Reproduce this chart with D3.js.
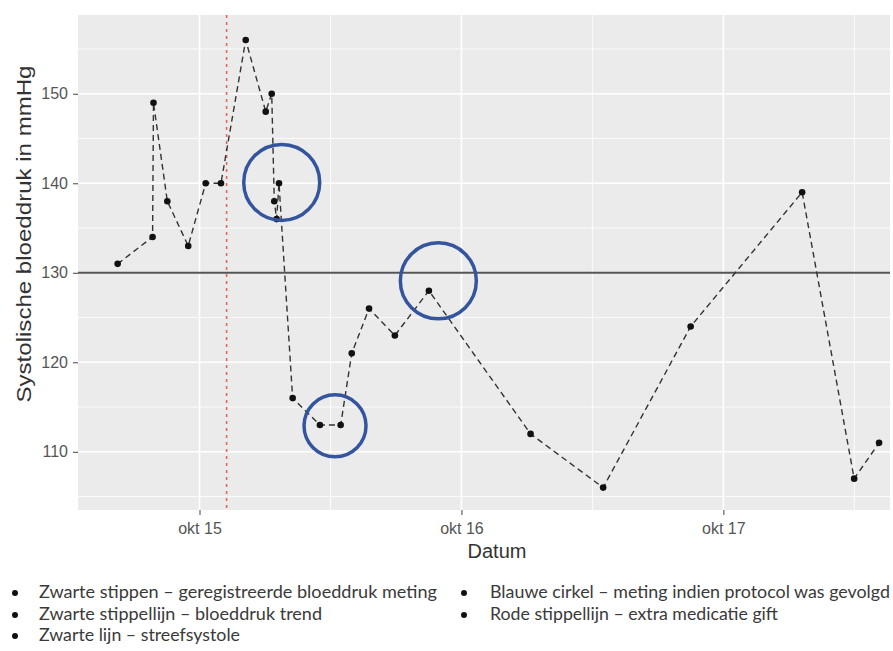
<!DOCTYPE html>
<html>
<head>
<meta charset="utf-8">
<script src="https://cdn.jsdelivr.net/npm/d3@7"></script>
<style>
  body { margin: 0; background: #fff; }
  svg { display: block; }
</style>
</head>
<body>
<div id="chart"></div>
<script>

// measurement times and systolic values (mmHg)
var times = [
  "2019-10-14 16:30", "2019-10-14 19:42", "2019-10-14 19:47", "2019-10-14 21:03",
  "2019-10-14 22:58", "2019-10-15 00:34", "2019-10-15 01:58", "2019-10-15 04:14",
  "2019-10-15 06:04", "2019-10-15 06:37", "2019-10-15 06:51", "2019-10-15 07:04",
  "2019-10-15 07:17", "2019-10-15 08:32", "2019-10-15 11:02", "2019-10-15 12:56",
  "2019-10-15 13:57", "2019-10-15 15:32", "2019-10-15 17:54", "2019-10-15 21:01",
  "2019-10-16 06:20", "2019-10-16 12:59", "2019-10-16 21:00", "2019-10-17 07:13",
  "2019-10-17 11:59", "2019-10-17 14:16"
];
var systole = [
  131, 134, 149, 138,
  133, 140, 140, 156,
  148, 150, 138, 136,
  140, 116, 113, 113,
  121, 126, 123, 128,
  112, 106, 124, 139,
  107, 111
];

// target systole and extra medication moment
var targetSystole = 130;
var medicationTime = "2019-10-15 02:29";

// blue circles: measurement if protocol was followed
var circleTimes = ["2019-10-15 07:32", "2019-10-15 12:25", "2019-10-15 21:53"];
var circleValues = [140.1, 112.9, 129.1];

// axis ticks
var xTickTimes = ["2019-10-15 00:00", "2019-10-16 00:00", "2019-10-17 00:00"];
var xMinorTimes = ["2019-10-15 12:00", "2019-10-16 12:00", "2019-10-17 12:00"];
var yTicks = [110, 120, 130, 140, 150];
var yMinor = [105, 115, 125, 135, 145, 155];

// legend texts
var legendLeft = [
  "Zwarte stippen \u2013 geregistreerde bloeddruk meting",
  "Zwarte stippellijn \u2013 bloeddruk trend",
  "Zwarte lijn \u2013 streefsystole"
];
var legendRight = [
  "Blauwe cirkel \u2013 meting indien protocol was gevolgd",
  "Rode stippellijn \u2013 extra medicatie gift"
];

var parse = d3.timeParse("%Y-%m-%d %H:%M");
var data = times.map(function(t, i) { return {date: parse(t), value: systole[i]}; });

var nl = d3.timeFormatLocale({
  dateTime: "%a %e %B %Y %X", date: "%d-%m-%Y", time: "%H:%M:%S",
  periods: ["AM", "PM"],
  days: ["zondag", "maandag", "dinsdag", "woensdag", "donderdag", "vrijdag", "zaterdag"],
  shortDays: ["zo", "ma", "di", "wo", "do", "vr", "za"],
  months: ["januari", "februari", "maart", "april", "mei", "juni", "juli", "augustus", "september", "oktober", "november", "december"],
  shortMonths: ["jan", "feb", "mrt", "apr", "mei", "jun", "jul", "aug", "sep", "okt", "nov", "dec"]
});

// panel box
var margin = {top: 15, right: 3, bottom: 141, left: 78},
    width = 893 - margin.left - margin.right,
    height = 651 - margin.top - margin.bottom;

var svg = d3.select("#chart")
  .append("svg")
    .attr("width", 893)
    .attr("height", 651);

var g = svg.append("g")
    .attr("transform", "translate(" + margin.left + "," + margin.top + ")");

var x = d3.scaleTime()
  .domain([parse("2019-10-14 12:52"), parse("2019-10-17 15:16")])
  .range([0, width]);

var y = d3.scaleLinear()
  .domain([103.5, 158.8])
  .range([height, 0]);

// panel background
g.append("rect")
  .attr("width", width)
  .attr("height", height)
  .attr("fill", "#ebebeb");

// minor grid
g.selectAll(".hminor").data(yMinor).enter().append("line")
  .attr("x1", 0).attr("x2", width)
  .attr("y1", function(d) { return y(d); })
  .attr("y2", function(d) { return y(d); })
  .attr("stroke", "#fff").attr("stroke-width", 0.8);
g.selectAll(".vminor").data(xMinorTimes).enter().append("line")
  .attr("y1", 0).attr("y2", height)
  .attr("x1", function(d) { return x(parse(d)); })
  .attr("x2", function(d) { return x(parse(d)); })
  .attr("stroke", "#fff").attr("stroke-width", 0.8);

// major grid
g.selectAll(".hmajor").data(yTicks).enter().append("line")
  .attr("x1", 0).attr("x2", width)
  .attr("y1", function(d) { return y(d); })
  .attr("y2", function(d) { return y(d); })
  .attr("stroke", "#fff").attr("stroke-width", 1.6);
g.selectAll(".vmajor").data(xTickTimes).enter().append("line")
  .attr("y1", 0).attr("y2", height)
  .attr("x1", function(d) { return x(parse(d)); })
  .attr("x2", function(d) { return x(parse(d)); })
  .attr("stroke", "#fff").attr("stroke-width", 1.6);

// target line
g.append("line")
  .attr("x1", 0).attr("x2", width)
  .attr("y1", y(targetSystole)).attr("y2", y(targetSystole))
  .attr("stroke", "#555").attr("stroke-width", 2);

// medication line
g.append("line")
  .attr("y1", 0).attr("y2", height)
  .attr("x1", x(parse(medicationTime))).attr("x2", x(parse(medicationTime)))
  .attr("stroke", "#e8645e").attr("stroke-width", 1.6)
  .attr("stroke-dasharray", "3,4");

// trend line
var line = d3.line()
  .x(function(d) { return x(d.date); })
  .y(function(d) { return y(d.value); });

g.append("path")
  .datum(data)
  .attr("d", line)
  .attr("fill", "none")
  .attr("stroke", "#333")
  .attr("stroke-width", 1.4)
  .attr("stroke-dasharray", "6,4");

// points
g.selectAll(".dot").data(data).enter().append("circle")
  .attr("cx", function(d) { return x(d.date); })
  .attr("cy", function(d) { return y(d.value); })
  .attr("r", 3.3)
  .attr("fill", "#111");

// protocol circles
var circleR = [38, 31, 38];
g.selectAll(".ring").data(circleTimes).enter().append("circle")
  .attr("cx", function(d) { return x(parse(d)); })
  .attr("cy", function(d, i) { return y(circleValues[i]); })
  .attr("r", function(d, i) { return circleR[i]; })
  .attr("fill", "none")
  .attr("stroke", "#34559e")
  .attr("stroke-width", 3.5);

// axes
var xAxis = g.append("g")
  .attr("transform", "translate(0," + height + ")")
  .call(d3.axisBottom(x)
    .tickValues(xTickTimes.map(parse))
    .tickFormat(nl.format("%b %d"))
    .tickSize(5).tickPadding(8));

var yAxis = g.append("g")
  .call(d3.axisLeft(y).tickValues(yTicks).tickSize(5).tickPadding(5));

[xAxis, yAxis].forEach(function(a) {
  a.select(".domain").remove();
  a.selectAll(".tick line").attr("stroke", "#444");
  a.selectAll(".tick text")
    .attr("fill", "#555")
    .style("font-family", "'Liberation Sans', Arial, sans-serif")
    .style("font-size", "16px");
});

// axis titles
svg.append("text")
  .attr("x", 497).attr("y", 558)
  .attr("text-anchor", "middle")
  .style("font-family", "'Liberation Sans', Arial, sans-serif")
  .style("font-size", "20px")
  .attr("fill", "#333")
  .text("Datum");

svg.append("text")
  .attr("transform", "translate(31,234) rotate(-90)")
  .attr("text-anchor", "middle")
  .attr("textLength", 337)
  .attr("lengthAdjust", "spacingAndGlyphs")
  .style("font-family", "'Liberation Sans', Arial, sans-serif")
  .style("font-size", "20px")
  .attr("fill", "#333")
  .text("Systolische bloeddruk in mmHg");

// legend below the chart
var leftWidths = [398, 283, 201],
    rightWidths = [400, 288],
    rowY = [598, 620, 641];

function legendColumn(items, widths, bulletX, textX) {
  var row = svg.selectAll(null).data(items).enter().append("g");
  row.append("circle")
    .attr("cx", bulletX)
    .attr("cy", function(d, i) { return rowY[i] - 5; })
    .attr("r", 3)
    .attr("fill", "#111");
  row.append("text")
    .attr("x", textX)
    .attr("y", function(d, i) { return rowY[i]; })
    .attr("textLength", function(d, i) { return widths[i]; })
    .attr("lengthAdjust", "spacingAndGlyphs")
    .style("font-family", "Lato, 'Open Sans', sans-serif")
    .style("font-size", "18px")
    .attr("fill", "#3a3a3a")
    .text(function(d) { return d; });
}
legendColumn(legendLeft, leftWidths, 15, 39);
legendColumn(legendRight, rightWidths, 464, 490);

</script>
</body>
</html>
